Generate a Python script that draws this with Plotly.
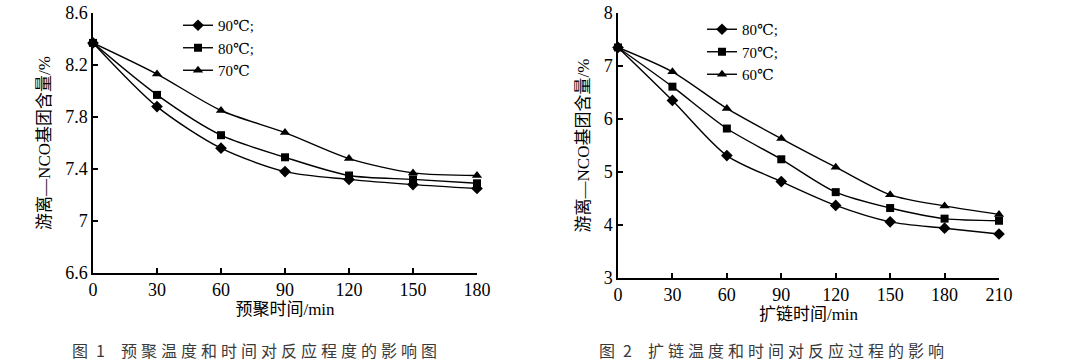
import plotly.graph_objects as go

# ---- data: figure 1 (pre-polymerisation) ----
t1 = [0, 30, 60, 90, 120, 150, 180]
f1_90 = [8.37, 7.88, 7.56, 7.38, 7.32, 7.28, 7.25]
f1_80 = [8.37, 7.97, 7.66, 7.49, 7.35, 7.32, 7.29]
f1_70 = [8.37, 8.13, 7.85, 7.68, 7.48, 7.37, 7.35]
f1_names = ["90℃;", "80℃;", "70℃"]
f1_ticks = [6.6, 7.0, 7.4, 7.8, 8.2, 8.6]
f1_ticktext = ["6.6", "7", "7.4", "7.8", "8.2", "8.6"]

# ---- data: figure 2 (chain extension) ----
t2 = [0, 30, 60, 90, 120, 150, 180, 210]
f2_80 = [7.35, 6.35, 5.31, 4.82, 4.37, 4.06, 3.94, 3.83]
f2_70 = [7.35, 6.61, 5.82, 5.24, 4.62, 4.32, 4.12, 4.08]
f2_60 = [7.35, 6.89, 6.20, 5.63, 5.09, 4.57, 4.36, 4.20]
f2_names = ["80℃;", "70℃;", "60℃"]
f2_ticks = [3, 4, 5, 6, 7, 8]

symbols = ["diamond", "square", "triangle-up"]
msizes = [9, 8, 9]

W, H = 1066, 364


def px(x):
    return x / W


def py(y):
    return 1 - y / H


SERIF = "Liberation Serif, Times New Roman, DejaVu Serif, serif"
fig = go.Figure()

for ys, nm, sym, ms in zip([f1_90, f1_80, f1_70], f1_names, symbols, msizes):
    fig.add_trace(go.Scatter(x=t1, y=ys, name=nm, mode="lines+markers",
                             line=dict(color="black", width=1.4, shape="spline", smoothing=0.8),
                             marker=dict(symbol=sym, size=ms, color="black"),
                             cliponaxis=False, xaxis="x", yaxis="y", legend="legend"))
for ys, nm, sym, ms in zip([f2_80, f2_70, f2_60], f2_names, symbols, msizes):
    fig.add_trace(go.Scatter(x=t2, y=ys, name=nm, mode="lines+markers",
                             line=dict(color="black", width=1.4, shape="spline", smoothing=0.8),
                             marker=dict(symbol=sym, size=ms, color="black"),
                             cliponaxis=False, xaxis="x2", yaxis="y2", legend="legend2"))

tickfont = dict(family=SERIF, size=18, color="black")
titlefont = dict(family=SERIF + ", Noto Sans CJK SC", size=17, color="black")
axcommon = dict(showgrid=False, zeroline=False, showline=True, linecolor="black", linewidth=1.5,
                ticks="inside", ticklen=5, tickwidth=1.5, tickcolor="black", tickfont=tickfont,
                automargin=False, ticklabeloverflow="allow")

capfont = dict(family="Noto Sans CJK SC", size=16, color="#3a3a3a")
sp = "\u2005"
em = "\u2003"
cap1 = "图" + sp * 2 + "1" + em + sp.join("预聚温度和时间对反应程度的影响图")
cap2 = "图" + sp * 2 + "2" + em + sp.join("扩链温度和时间对反应过程的影响")

fig.update_layout(
    width=W, height=H,
    margin=dict(l=0, r=0, t=0, b=0, autoexpand=False),
    paper_bgcolor="white", plot_bgcolor="white",
    showlegend=True,
    xaxis=dict(domain=[px(93), px(477)], range=[0, 180], tickvals=t1, anchor="y",
               title=dict(text="预聚时间/min", font=titlefont, standoff=0), **axcommon),
    yaxis=dict(domain=[py(273), py(13)], range=[6.6, 8.6], tickvals=f1_ticks,
               ticktext=f1_ticktext, anchor="x",
               title=dict(text="游离—NCO基团含量/%", font=titlefont, standoff=10), **axcommon),
    xaxis2=dict(domain=[px(618), px(999)], range=[0, 210], tickvals=t2, anchor="y2",
                title=dict(text="扩链时间/min", font=titlefont, standoff=0), **axcommon),
    yaxis2=dict(domain=[py(278), py(13)], range=[3, 8], tickvals=f2_ticks, anchor="x2",
                title=dict(text="游离—NCO基团含量/%", font=titlefont, standoff=10), **axcommon),
    legend=dict(x=px(178), y=py(9), xanchor="left", yanchor="top",
                font=dict(family=SERIF, size=15, color="black"),
                bgcolor="rgba(0,0,0,0)", itemwidth=30, tracegroupgap=0),
    legend2=dict(x=px(702), y=py(13), xanchor="left", yanchor="top",
                 font=dict(family=SERIF, size=15, color="black"),
                 bgcolor="rgba(0,0,0,0)", itemwidth=30, tracegroupgap=0),
    annotations=[
        dict(text=cap1, x=px(70), y=py(350),
             xref="paper", yref="paper", xanchor="left", yanchor="middle", showarrow=False,
             font=capfont),
        dict(text=cap2, x=px(597), y=py(350),
             xref="paper", yref="paper", xanchor="left", yanchor="middle", showarrow=False,
             font=capfont),
    ],
)

fig.write_html("out.html", config={"displayModeBar": False},
               post_script="document.body.style.margin='0px';")
